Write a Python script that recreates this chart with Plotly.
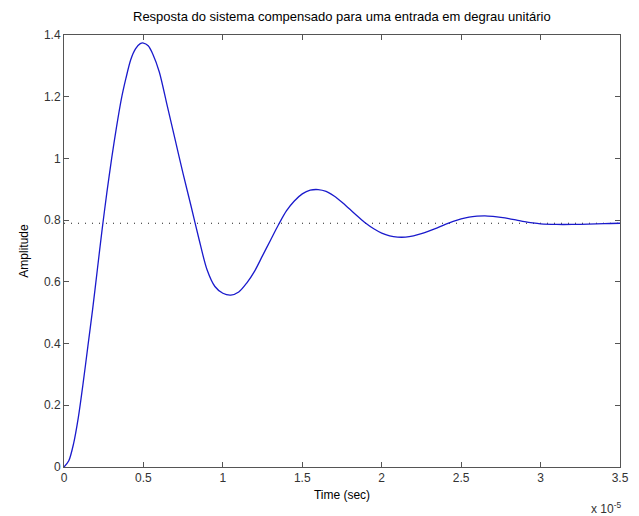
import plotly.graph_objects as go

# Step response samples (time in units of 1e-5 s)
time_e5 = [0.0, 0.03, 0.06, 0.09, 0.12, 0.15, 0.18, 0.21, 0.24, 0.27,
           0.30, 0.33, 0.36, 0.39, 0.42, 0.45, 0.48, 0.50, 0.53, 0.56,
           0.60, 0.65, 0.70, 0.75, 0.80, 0.85, 0.90, 0.95, 1.00, 1.05,
           1.10, 1.15, 1.20, 1.25, 1.30, 1.35, 1.40, 1.45, 1.50, 1.55,
           1.60, 1.65, 1.70, 1.75, 1.80, 1.85, 1.90, 1.95, 2.00, 2.05,
           2.10, 2.15, 2.20, 2.25, 2.30, 2.35, 2.40, 2.45, 2.50, 2.55,
           2.60, 2.65, 2.70, 2.75, 2.80, 2.85, 2.90, 2.95, 3.00, 3.10,
           3.20, 3.30, 3.40, 3.50]
amplitude = [0.0, 0.02, 0.075, 0.16, 0.27, 0.39, 0.51, 0.64, 0.77, 0.89,
             1.0, 1.10, 1.19, 1.26, 1.32, 1.355, 1.372, 1.374, 1.365, 1.337,
             1.28, 1.17, 1.06, 0.95, 0.845, 0.738, 0.64, 0.585, 0.563, 0.557,
             0.567, 0.596, 0.635, 0.685, 0.735, 0.785, 0.83, 0.862, 0.885, 0.897,
             0.899, 0.893, 0.878, 0.858, 0.835, 0.812, 0.79, 0.772, 0.758, 0.749,
             0.745, 0.745, 0.749, 0.756, 0.765, 0.775, 0.786, 0.796, 0.804, 0.81,
             0.813, 0.814, 0.812, 0.809, 0.805, 0.80, 0.795, 0.791, 0.788, 0.786,
             0.786, 0.787, 0.789, 0.79]
final_value = 0.79

x_ticks = [0, 0.5, 1, 1.5, 2, 2.5, 3, 3.5]
y_ticks = [0, 0.2, 0.4, 0.6, 0.8, 1, 1.2, 1.4]

fig = go.Figure()

# steady-state reference line
fig.add_trace(go.Scatter(
    x=[x_ticks[0], x_ticks[-1]], y=[final_value, final_value],
    mode="lines", line=dict(color="#202020", width=1.2, dash="1px,6px"),
    hoverinfo="skip", showlegend=False))

# system response
fig.add_trace(go.Scatter(
    x=time_e5, y=amplitude, mode="lines",
    line=dict(color="#1a1acc", width=1.3, shape="spline", smoothing=0.8),
    showlegend=False))

axis_style = dict(
    showline=True, linecolor="#555555", linewidth=1, mirror="ticks",
    ticks="inside", ticklen=5, tickcolor="#555555", showgrid=False,
    zeroline=False, tickfont=dict(size=12, color="#333333"),
)

fig.update_layout(
    width=639, height=516,
    paper_bgcolor="white", plot_bgcolor="white",
    font=dict(family="Liberation Sans, Arial, sans-serif", color="black"),
    margin=dict(l=64, r=10, t=35, b=49),
    title=dict(text="Resposta do sistema compensado para uma entrada em degrau unitário",
               x=0.535, xanchor="center", y=0.968, yanchor="middle",
               font=dict(size=13, color="black")),
    xaxis=dict(range=[0, 3.5], tickvals=x_ticks,
               ticktext=[f"{v:g}" for v in x_ticks],
               title=dict(text="Time (sec)", font=dict(size=12), standoff=6),
               **axis_style),
    yaxis=dict(range=[0, 1.4], tickvals=y_ticks,
               ticktext=[f"{v:g}" for v in y_ticks],
               title=dict(text="Amplitude", font=dict(size=12), standoff=12),
               **axis_style),
    annotations=[dict(text="x 10<sup>-5</sup>", xref="paper", yref="paper",
                      x=1.005, y=-0.096, xanchor="right", yanchor="middle",
                      showarrow=False, font=dict(size=12, color="#333333"))],
)

fig.write_html("out.html")
